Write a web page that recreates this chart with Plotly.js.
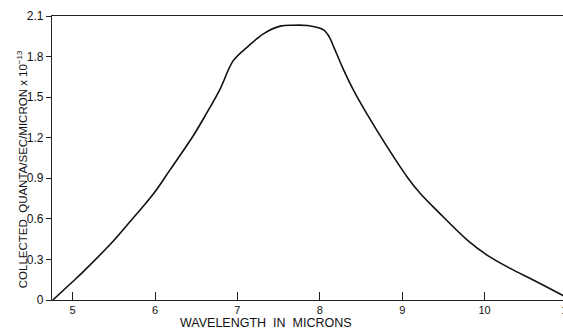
<!DOCTYPE html>
<html>
<head>
<meta charset="utf-8">
<script src="https://cdn.plot.ly/plotly-3.0.1.min.js"></script>
<style>
html,body{margin:0;padding:0;overflow:hidden;background:#fff;width:563px;height:329px;}
#chart{width:567px;height:329px;}
</style>
</head>
<body>
<div id="chart"></div>
<script>
// Wavelength (microns)
var wavelength = [4.76, 5.0, 5.13, 5.5, 5.74, 5.84, 6.0, 6.18, 6.47, 6.63, 6.79, 6.95, 7.12, 7.32, 7.52, 7.68, 7.85, 7.96, 8.05, 8.12, 8.17, 8.29, 8.41, 8.57, 8.82, 9.06, 9.22, 9.44, 9.79, 10.03, 10.31, 10.59, 10.94, 11.0];
// Collected quanta/sec/micron x 10^-13
var quanta = [0.0, 0.135, 0.21, 0.44, 0.61, 0.68, 0.80, 0.96, 1.22, 1.385, 1.56, 1.77, 1.87, 1.97, 2.025, 2.032, 2.03, 2.017, 1.995, 1.94, 1.87, 1.70, 1.55, 1.378, 1.13, 0.91, 0.787, 0.65, 0.443, 0.332, 0.234, 0.148, 0.037, 0.018];

var xTickVals = [5, 6, 7, 8, 9, 10, 11];
var xTickText = ["5", "6", "7", "8", "9", "10", "11"];
var yTickVals = [0, 0.3, 0.6, 0.9, 1.2, 1.5, 1.8, 2.1];
var yTickText = ["0", "0.3", "0.6", "0.9", "1.2", "1.5", "1.8", "2.1"];

var xTitle = "WAVELENGTH  IN  MICRONS";
var yTitle = "COLLECTED  QUANTA/SEC/MICRON x 10<sup>−13</sup>";

var fontFam = "Liberation Sans, Arial, sans-serif";

var trace = {
  x: wavelength,
  y: quanta,
  type: "scatter",
  mode: "lines",
  line: {color: "#111", width: 1.6, shape: "spline", smoothing: 1.0},
  hoverinfo: "skip"
};

var layout = {
  width: 567,
  height: 329,
  margin: {l: 52, r: 0, t: 16, b: 29, pad: 0},
  paper_bgcolor: "#fff",
  plot_bgcolor: "#fff",
  showlegend: false,
  font: {family: fontFam, color: "#111", size: 12},
  xaxis: {
    range: [4.75, 11],
    tickvals: xTickVals,
    ticktext: xTickText,
    ticks: "inside",
    ticklen: 8,
    tickwidth: 1,
    tickcolor: "#222",
    ticklabeloverflow: "allow",
    showgrid: false,
    zeroline: false,
    showline: true,
    linecolor: "#222",
    linewidth: 1.2,
    mirror: true,
    tickfont: {family: fontFam, size: 11, color: "#111"},
    fixedrange: true
  },
  yaxis: {
    range: [0, 2.1],
    tickvals: yTickVals,
    ticktext: yTickText,
    ticks: "outside",
    ticklen: 5,
    tickwidth: 1,
    tickcolor: "#222",
    showgrid: false,
    zeroline: false,
    showline: true,
    linecolor: "#222",
    linewidth: 1.2,
    tickfont: {family: fontFam, size: 12, color: "#111"},
    fixedrange: true
  },
  annotations: [
    {
      text: xTitle,
      xref: "paper", yref: "paper",
      x: 0.4155, y: -0.082,
      xanchor: "center", yanchor: "middle",
      showarrow: false,
      font: {family: fontFam, size: 12.5, color: "#111"}
    },
    {
      text: yTitle,
      xref: "paper", yref: "paper",
      x: -0.058, y: 0.461,
      xanchor: "center", yanchor: "middle",
      textangle: -90,
      showarrow: false,
      font: {family: fontFam, size: 11.5, color: "#111"}
    }
  ]
};

Plotly.newPlot("chart", [trace], layout, {displayModeBar: false, staticPlot: true});
</script>
</body>
</html>
